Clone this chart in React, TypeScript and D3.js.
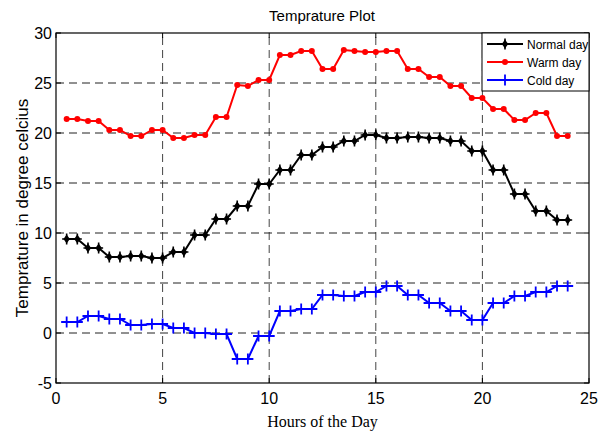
import React from 'react';
import * as d3 from 'd3';

// half-hour readings, 0.5 .. 24 h
const hours: number[] = d3.range(1, 49).map((i) => i * 0.5);

const normalDay: number[] = [
    9.4, 9.4, 8.5, 8.5, 7.6, 7.6, 7.7, 7.7, 7.5, 7.5, 8.1, 8.1,
    9.8, 9.8, 11.4, 11.4, 12.7, 12.7, 14.9, 14.9, 16.3, 16.3, 17.8, 17.8,
    18.6, 18.6, 19.2, 19.2, 19.8, 19.8, 19.5, 19.5, 19.6, 19.6, 19.5, 19.5,
    19.2, 19.2, 18.2, 18.2, 16.3, 16.3, 13.9, 13.9, 12.2, 12.2, 11.3, 11.3,
];

const warmDay: number[] = [
    21.4, 21.4, 21.2, 21.2, 20.3, 20.3, 19.7, 19.7, 20.3, 20.3, 19.5, 19.5,
    19.8, 19.8, 21.6, 21.6, 24.8, 24.7, 25.3, 25.3, 27.8, 27.8, 28.2, 28.2,
    26.4, 26.4, 28.3, 28.2, 28.1, 28.1, 28.2, 28.2, 26.4, 26.4, 25.6, 25.6,
    24.7, 24.7, 23.5, 23.5, 22.4, 22.4, 21.3, 21.3, 22.0, 22.0, 19.7, 19.7,
];

const coldDay: number[] = [
    1.1, 1.1, 1.7, 1.7, 1.4, 1.4, 0.8, 0.8, 0.9, 0.9, 0.5, 0.5,
    0.0, 0.0, -0.1, -0.1, -2.6, -2.6, -0.3, -0.3, 2.2, 2.2, 2.4, 2.4,
    3.8, 3.8, 3.7, 3.7, 4.1, 4.1, 4.7, 4.7, 3.8, 3.8, 3.0, 3.0,
    2.2, 2.2, 1.3, 1.3, 3.0, 3.0, 3.7, 3.7, 4.1, 4.1, 4.7, 4.7,
];

const xTicks: number[] = [0, 5, 10, 15, 20, 25];
const yTicks: number[] = [-5, 0, 5, 10, 15, 20, 25, 30];

const seriesNames: string[] = ['Normal day', 'Warm day', 'Cold day'];
const seriesColors: string[] = ['#000000', '#ff0000', '#0000ff'];

const width = 612;
const height = 434;
const marginLeft = 56;
const marginRight = 23;
const marginTop = 33;
const marginBottom = 51;

const Marker: React.FC<{ kind: number; x: number; y: number; color: string }> = ({ kind, x, y, color }) => {
    if (kind === 0) {
        return (
            <g transform={`translate(${x},${y})`}>
                <path d="M0,-4.5L3.2,0L0,4.5L-3.2,0Z" fill={color} />
                <path d="M-4.5,0H4.5M0,-5.5V5.5" stroke={color} strokeWidth={1.6} />
            </g>
        );
    }
    if (kind === 1) {
        return <circle cx={x} cy={y} r={3} fill={color} />;
    }
    return <path d={`M${x - 5.5},${y}H${x + 5.5}M${x},${y - 5.5}V${y + 5.5}`} stroke={color} strokeWidth={1.8} />;
};

const App: React.FC = () => {
    const x = d3.scaleLinear().domain([0, 25]).range([marginLeft, width - marginRight]);
    const y = d3.scaleLinear().domain([-5, 30]).range([height - marginBottom, marginTop]);

    const line = d3.line<[number, number]>()
        .x((d) => x(d[0]))
        .y((d) => y(d[1]));

    const allSeries = [normalDay, warmDay, coldDay].map((vals) =>
        vals.map((v, i) => [hours[i], v] as [number, number])
    );

    const x0 = x(0), x1 = x(25), y0 = y(-5), y1 = y(30);
    const fontSans = '"Liberation Sans", Arial, Helvetica, sans-serif';

    const legendX = 482;
    const legendY = 33;
    const legendW = 107;
    const legendH = 58;

    return (
        <svg width={width} height={height} viewBox={`0 0 ${width} ${height}`}
            style={{ position: 'absolute', left: 0, top: 0, background: '#fff' }}>
            <rect x={0} y={0} width={width} height={height} fill="#fff" />

            {/* grid */}
            {xTicks.filter((t) => t > 0 && t < 25).map((t) => (
                <line key={'gx' + t} x1={x(t)} x2={x(t)} y1={y0} y2={y1}
                    stroke="#444" strokeWidth={1} strokeDasharray="8,5" />
            ))}
            {yTicks.filter((t) => t > -5 && t < 30).map((t) => (
                <line key={'gy' + t} x1={x0} x2={x1} y1={y(t)} y2={y(t)}
                    stroke="#222" strokeWidth={1} strokeDasharray="8,5" />
            ))}

            {/* series */}
            {allSeries.map((s, k) => (
                <g key={'s' + k}>
                    <path d={line(s) ?? ''} fill="none" stroke={seriesColors[k]} strokeWidth={2} />
                    {s.map((d, i) => (
                        <Marker key={i} kind={k} x={x(d[0])} y={y(d[1])} color={seriesColors[k]} />
                    ))}
                </g>
            ))}

            {/* axes box and inner ticks */}
            <rect x={x0} y={y1} width={x1 - x0} height={y0 - y1} fill="none" stroke="#000" strokeWidth={1.2} />
            {xTicks.map((t) => (
                <g key={'xt' + t}>
                    <line x1={x(t)} x2={x(t)} y1={y0} y2={y0 - 5} stroke="#000" />
                    <line x1={x(t)} x2={x(t)} y1={y1} y2={y1 + 5} stroke="#000" />
                    <text x={x(t)} y={y0 + 21} textAnchor="middle" fontFamily={fontSans} fontSize={16}>{t}</text>
                </g>
            ))}
            {yTicks.map((t) => (
                <g key={'yt' + t}>
                    <line x1={x0} x2={x0 + 5} y1={y(t)} y2={y(t)} stroke="#000" />
                    <line x1={x1} x2={x1 - 5} y1={y(t)} y2={y(t)} stroke="#000" />
                    <text x={x0 - 4} y={y(t) + 5.5} textAnchor="end" fontFamily={fontSans} fontSize={16}>{t}</text>
                </g>
            ))}

            {/* titles */}
            <text x={322} y={20.5} textAnchor="middle" fontFamily={fontSans} fontSize={15}>Temprature Plot</text>
            <text x={(x0 + x1) / 2} y={427} textAnchor="middle"
                fontFamily='"Liberation Serif", "Times New Roman", serif' fontSize={16}>Hours of the Day</text>
            <text transform={`translate(28,${(y0 + y1) / 2}) rotate(-90)`} textAnchor="middle"
                fontFamily={fontSans} fontSize={17}>Temprature in degree celcius</text>

            {/* legend */}
            <rect x={legendX} y={legendY} width={legendW} height={legendH} fill="#fff" stroke="#000" strokeWidth={1} />
            {seriesNames.map((name, k) => {
                const ly = legendY + 11 + k * 18;
                return (
                    <g key={'lg' + k}>
                        <line x1={legendX + 5} x2={legendX + 41} y1={ly} y2={ly} stroke={seriesColors[k]} strokeWidth={2} />
                        <Marker kind={k} x={legendX + 23} y={ly} color={seriesColors[k]} />
                        <text x={legendX + 45} y={ly + 4.5} fontFamily={fontSans} fontSize={12}>{name}</text>
                    </g>
                );
            })}
        </svg>
    );
};

export default App;
